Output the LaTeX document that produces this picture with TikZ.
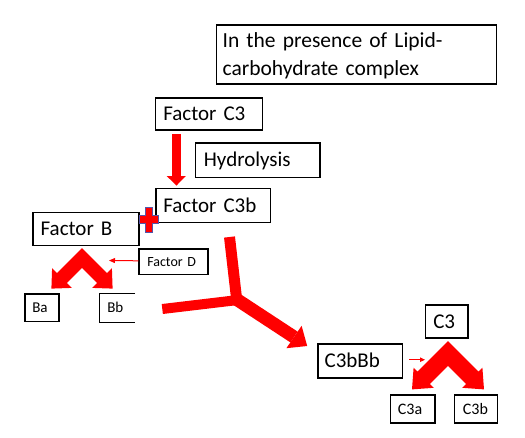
\documentclass[tikz,border=0pt]{standalone}
\usepackage{fontspec}
\setmainfont{Carlito}
\usetikzlibrary{arrows.meta,calc}
\definecolor{pptred}{RGB}{255,0,0}
\definecolor{plusedge}{RGB}{85,85,170}
\newcommand{\fsBig}{\fontsize{21}{28}\selectfont}
\newcommand{\fsMid}{\fontsize{16}{19}\selectfont}
\newcommand{\fsSmall}{\fontsize{15}{18}\selectfont}
\newcommand{\fsTiny}{\fontsize{14}{17}\selectfont}
\begin{document}
\begin{tikzpicture}[x=1pt,y=-1pt,
  box/.style={draw=black, line width=1.2pt, rectangle, anchor=north west,
    inner ysep=0pt, align=left, text depth=0pt},
  bigtxt/.style={font=\fsBig, text height=13.5pt},
  midtxt/.style={font=\fsMid, text height=10.3pt},
  smalltxt/.style={font=\fsSmall, text height=9.7pt},
  tinytxt/.style={font=\fsTiny, text height=9pt},
  redfill/.style={fill=pptred, draw=none},
  thinred/.style={draw=pptred, line width=1pt, -{Triangle[length=6pt,width=5pt]}},
]
\fill[white] (0,0) rectangle (525,437);
\useasboundingbox (0,0) rectangle (525,437);

% boxes
\node[box, font=\fontsize{21.5}{28}\selectfont, text height=13.8pt, text depth=28pt,
  minimum width=280pt, minimum height=59pt, inner xsep=6pt, text width=268pt]
  (title) at (216,24.3) {In the presence of Lipid-\\carbohydrate complex};
\node[box, bigtxt, minimum width=107pt, minimum height=32pt, inner xsep=8pt, text width=91pt]
  (fc3) at (154.7,97.3) {Factor C3};
\node[box, bigtxt, minimum width=124.3pt, minimum height=34.4pt, inner xsep=8.3pt, text width=107.7pt]
  (hyd) at (195,142.3) {Hydrolysis};
\node[box, bigtxt, minimum width=114.7pt, minimum height=34pt, inner xsep=7.4pt, text width=99.9pt]
  (fc3b) at (155.3,187.7) {Factor C3b};
\node[box, bigtxt, minimum width=106pt, minimum height=33.3pt, inner xsep=7.7pt, text width=90.6pt]
  (fb) at (32.3,211.7) {Factor B};
\node[box, tinytxt, minimum width=69pt, minimum height=25.7pt, inner xsep=8.4pt, text width=52.2pt]
  (fd) at (138.3,248.3) {Factor D};
\node[box, smalltxt, minimum width=34pt, minimum height=27.7pt, inner xsep=7.4pt, text width=19.2pt]
  (ba) at (24.3,293.3) {Ba};
\node[box, draw=none, smalltxt, minimum width=34.5pt, minimum height=27.7pt, inner xsep=7.4pt, text width=19.7pt]
  (bb) at (99.3,293.3) {Bb};
\draw[line width=1.2pt] (bb.north east) -- (bb.north west) -- (bb.south west) -- (bb.south east);
\node[box, bigtxt, minimum width=84.4pt, minimum height=34pt, inner xsep=6.7pt, text width=71pt]
  (c3bbb) at (317.3,343.3) {C3bBb};
\node[box, bigtxt, minimum width=42.3pt, minimum height=33pt, inner xsep=7.7pt, text width=26.9pt]
  (c3) at (425,304.3) {C3};
\node[box, midtxt, minimum width=44.3pt, minimum height=28pt, inner xsep=7.3pt, text width=29.7pt]
  (c3a) at (390,394.3) {C3a};
\node[box, midtxt, minimum width=42.7pt, minimum height=28pt, inner xsep=8.3pt, text width=26.1pt]
  (c3bb) at (454,394.3) {C3b};

% arrow Factor C3 -> Factor C3b
\coordinate (hs) at ($(fc3.south west)+(21.6,3.4)$);
\coordinate (hb) at ($(fc3b.north west)+(21,-11.7)$);
\coordinate (ht) at ($(fc3b.north west)+(21.2,-2.2)$);
\draw[pptred, line width=9.3pt] (hs) -- (hb);
\fill[pptred] ($(hb)+(-9.65,0)$) -- ($(hb)+(9.65,0)$) -- (ht) -- cycle;

% plus sign
\filldraw[fill=pptred, draw=plusedge, line width=1pt]
  (145.3,207.3) -- (152.7,207.3) -- (152.7,215.3) -- (158.7,215.3) -- (158.7,223.3)
  -- (152.7,223.3) -- (152.7,232.3) -- (145.3,232.3) -- (145.3,223.3) -- (139.3,223.3)
  -- (139.3,215.3) -- (145.3,215.3) -- cycle;

% Factor D arrow
\coordinate (fdtip) at (109,260.5);
\draw[thinred] (fd.west |- 0,260.8) -- (fdtip);

% chevron under Factor B
\fill[pptred] (82,248.1) -- (57.05,273.05) -- (52.1,268.1) -- (51.4,288.6) -- (71.9,287.9)
  -- (66.95,282.95) -- (82,267.9) -- (97.05,282.95) -- (92.1,287.9) -- (112.6,288.6)
  -- (111.9,268.1) -- (106.95,273.05) -- cycle;

% Y-shaped arrow
\coordinate (ytop) at (229.5,237);
\coordinate (yleft) at (162.3,309);
\coordinate (yj) at (236,299.5);
\coordinate (ym) at (294,337);
\draw[pptred, line width=11pt] (ytop) -- (236.5,298);
\draw[pptred, line width=10pt] (yleft) -- (238,300);
\draw[pptred, line width=13pt] (233,297) -- (ym);
\fill[pptred] (286.4,348.2) -- (307.2,346) -- (301.6,325.8) -- cycle;

% C3bBb small arrow
\coordinate (sa1) at (409.3,359.7);
\coordinate (sa2) at (425,359.7);
\draw[draw=pptred, line width=0.9pt, -{Triangle[length=5pt,width=4.5pt]}] (sa1) -- (sa2);

% chevron under C3
\fill[pptred] (448,341.0) -- (417.5,371.5) -- (413.6,367.6) -- (412.0,389.4) -- (433.8,387.8)
  -- (429.9,383.9) -- (448,365.8) -- (466.1,383.9) -- (462.2,387.8) -- (484.0,389.4)
  -- (482.4,367.6) -- (478.5,371.5) -- cycle;
\end{tikzpicture}
\end{document}
